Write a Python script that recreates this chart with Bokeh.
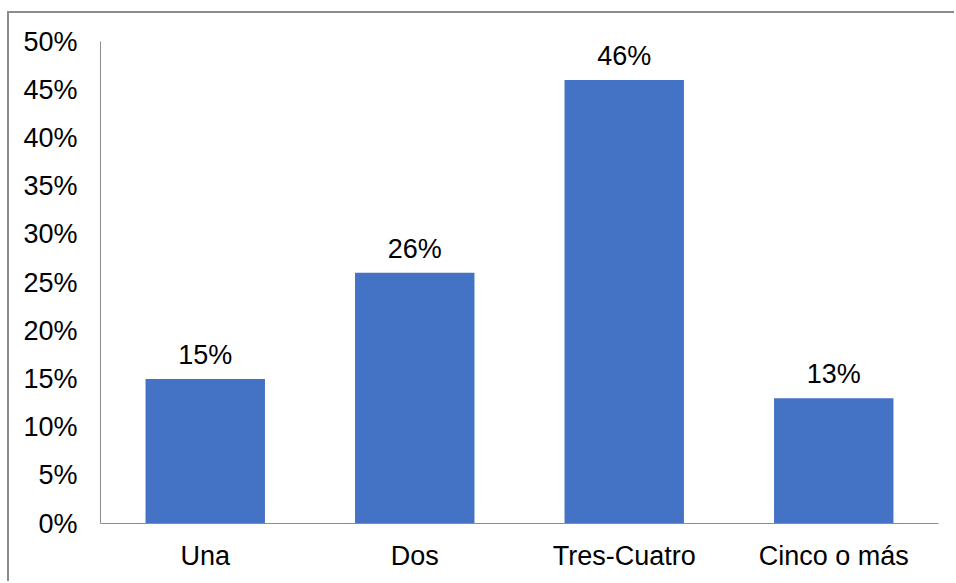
from bokeh.plotting import figure
from bokeh.models import ColumnDataSource, NumeralTickFormatter, FixedTicker, Range1d
from bokeh.core.properties import value
from bokeh.embed import file_html
from bokeh.resources import INLINE

# Number of items per household
categories = ["Una", "Dos", "Tres-Cuatro", "Cinco o más"]
shares = [0.15, 0.26, 0.46, 0.13]
labels = ["15%", "26%", "46%", "13%"]
y_ticks = [0.0, 0.05, 0.10, 0.15, 0.20, 0.25, 0.30, 0.35, 0.40, 0.45, 0.50]

FONT = "Liberation Sans"
FONT_SIZE = "27px"
BAR = "#4472C4"
AXIS = "#8c8c8c"

source = ColumnDataSource(data=dict(cat=categories, val=shares, lab=labels))

p = figure(
    x_range=categories,
    y_range=Range1d(0, 0.5),
    width=947,
    height=570,
    output_backend="svg",
    toolbar_location=None,
    min_border_left=91,
    min_border_right=18,
    min_border_top=28,
    min_border_bottom=60,
    margin=(11, 0, 0, 7),
    styles={"border-top": "2px solid #8c8c8c", "border-left": "2px solid #8c8c8c"},
)

p.vbar(x="cat", top="val", width=0.57, source=source, color=BAR, line_color=None)

p.text(
    x="cat", y="val", text="lab", source=source,
    text_align="center", text_baseline="middle", y_offset=-24,
    text_font=value(FONT), text_font_size=FONT_SIZE, text_color="#000000",
)

p.xgrid.visible = False
p.ygrid.visible = False
p.outline_line_color = None
p.background_fill_color = "white"
p.border_fill_color = "white"

p.yaxis.ticker = FixedTicker(ticks=y_ticks)
p.yaxis.formatter = NumeralTickFormatter(format="0%")

for ax in (p.xaxis, p.yaxis):
    ax.axis_line_color = AXIS
    ax.axis_line_width = 1
    ax.major_tick_line_color = None
    ax.minor_tick_line_color = None
    ax.major_tick_out = 0
    ax.major_tick_in = 0
    ax.major_label_text_font = FONT
    ax.major_label_text_font_size = FONT_SIZE
    ax.major_label_text_color = "#000000"

p.yaxis.major_label_standoff = 23
p.xaxis.major_label_standoff = 17
p.x_range.range_padding = 0.0

open("out.html", "w").write(file_html(p, INLINE))
